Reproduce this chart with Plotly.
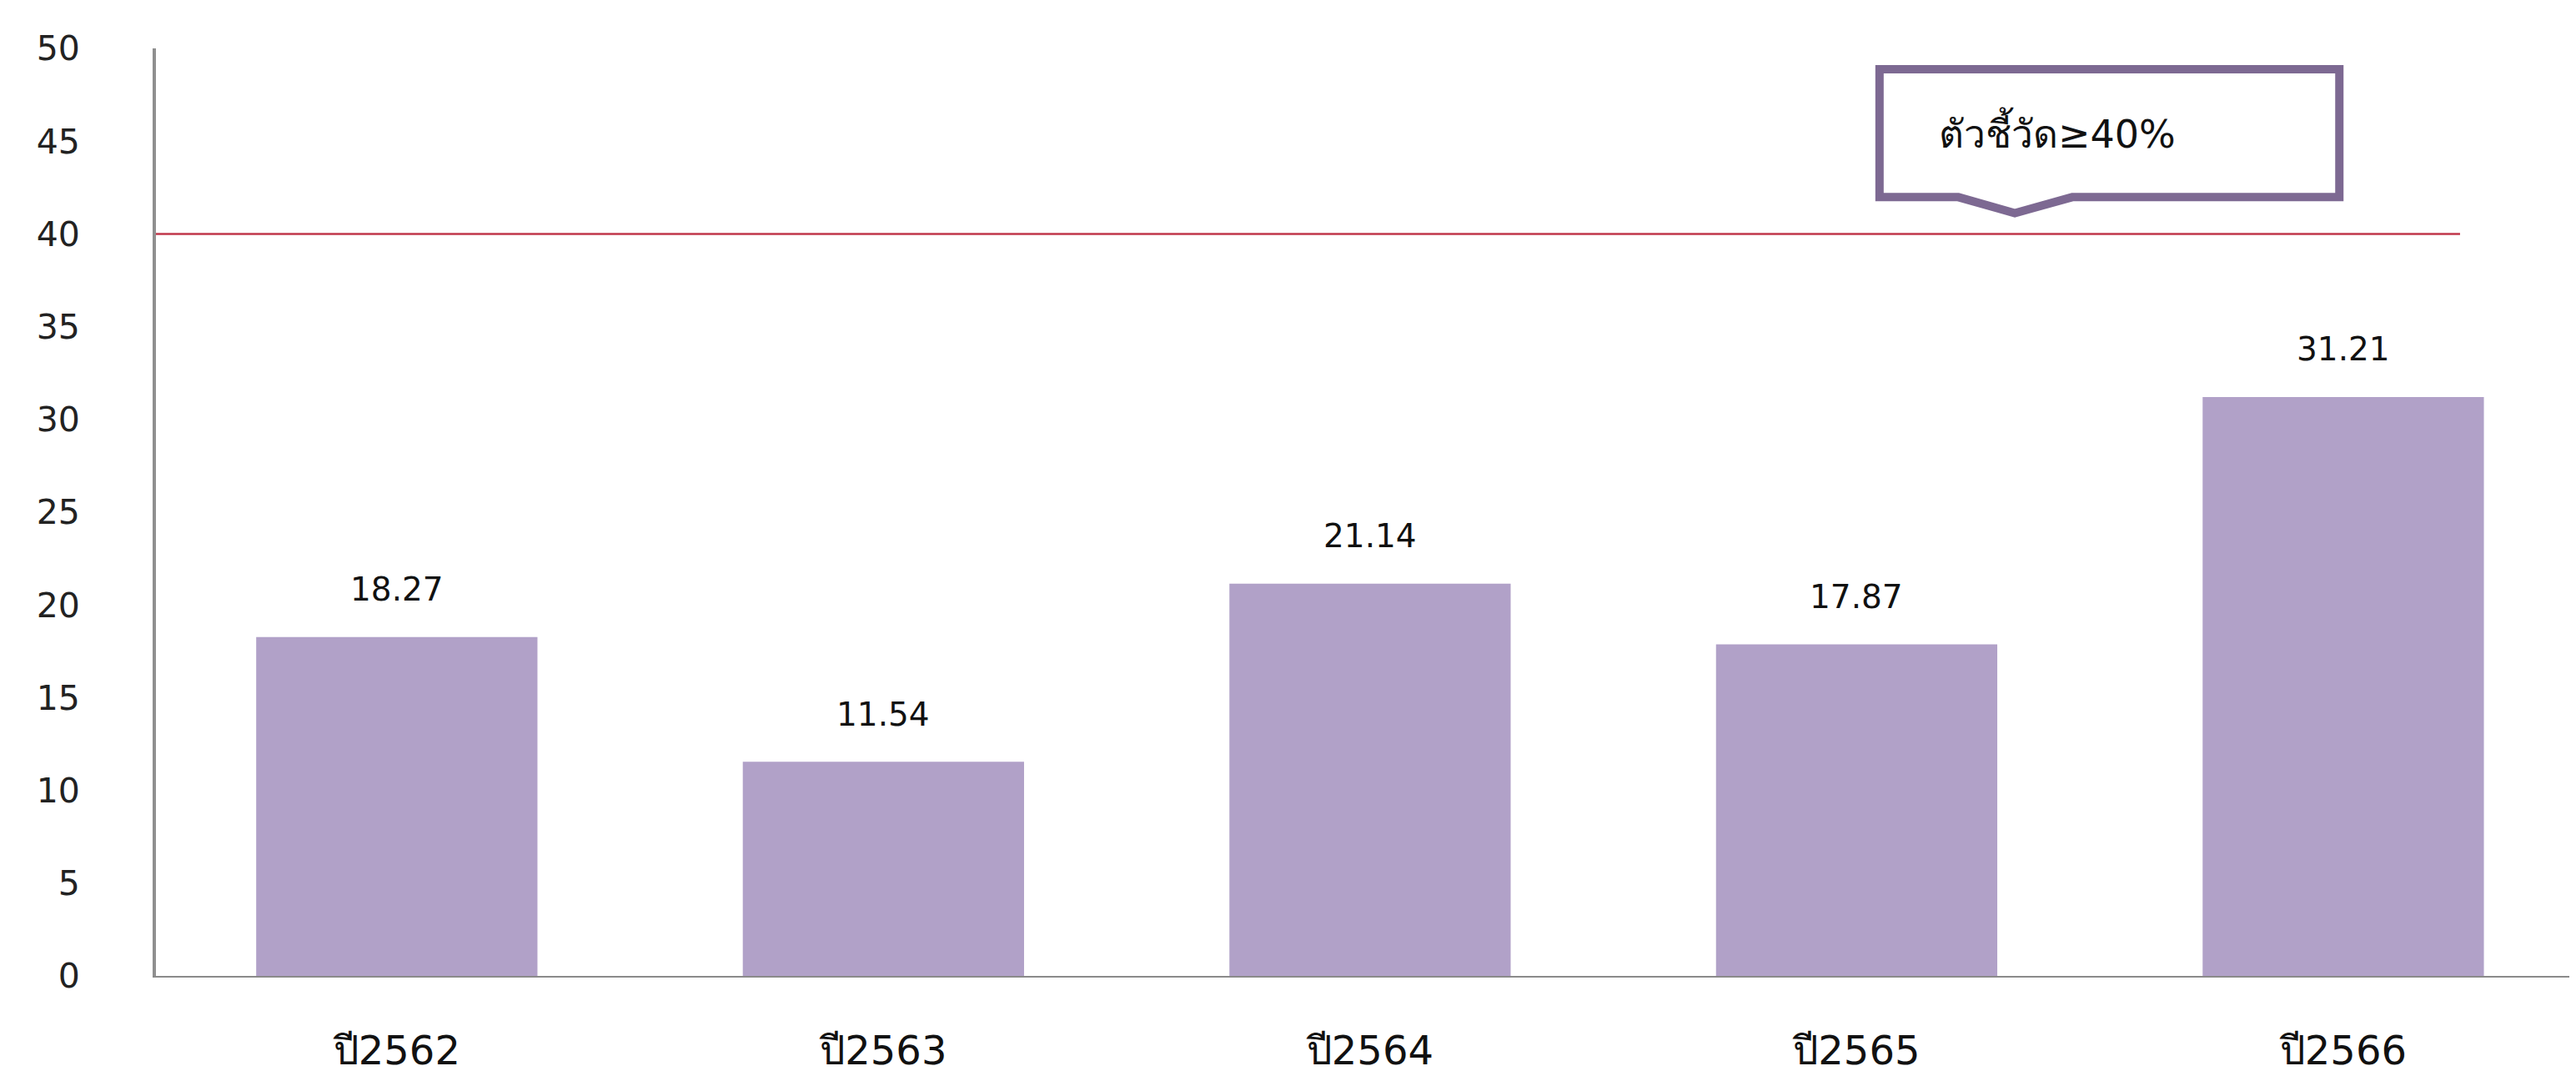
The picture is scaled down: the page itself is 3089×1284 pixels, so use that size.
import plotly.graph_objects as go

categories = ["ปี2562", "ปี2563", "ปี2564", "ปี2565", "ปี2566"]
values = [18.27, 11.54, 21.14, 17.87, 31.21]
threshold = 40
callout_text = "ตัวชี้วัด≥40%"
y_ticks = [0, 5, 10, 15, 20, 25, 30, 35, 40, 45, 50]

FONT = "Tahoma, Verdana, DejaVu Sans, Noto Sans, sans-serif"
x_idx = list(range(len(categories)))

fig = go.Figure()
fig.add_trace(go.Bar(
    x=x_idx, y=values,
    marker=dict(color="#b1a1c8", line=dict(width=0)),
    hoverinfo="skip",
))

# data labels
for i, v in zip(x_idx, values):
    fig.add_annotation(x=i, y=v, text=f"{v:.2f}", showarrow=False,
                       yanchor="middle", yshift=57,
                       font=dict(family=FONT, size=39, color="#111"))

# threshold line
fig.add_shape(type="line", xref="x", yref="y", x0=-0.495, x1=4.240,
              y0=threshold, y1=threshold,
              line=dict(color="#c0364a", width=2.5))

# callout box with pointer
L, R, T, B = 3.047, 3.992, 48.88, 41.98
pl, pc, pr, tip = 3.209, 3.325, 3.443, 41.12
path = (f"M {L},{T} L {R},{T} L {R},{B} L {pr},{B} L {pc},{tip} "
        f"L {pl},{B} L {L},{B} Z")
fig.add_shape(type="path", xref="x", yref="y", path=path,
              fillcolor="white", line=dict(color="#7d6992", width=10))
fig.add_annotation(x=3.165, y=45.5, xref="x", yref="y", text=callout_text,
                   showarrow=False, xanchor="left", yanchor="middle",
                   font=dict(family=FONT, size=46, color="#111"))

fig.update_layout(
    width=3089, height=1284,
    margin=dict(l=179, r=0, t=50, b=122),
    paper_bgcolor="white", plot_bgcolor="white",
    bargap=0.422, showlegend=False,
)
fig.update_xaxes(
    range=[-0.495, 4.492], tickmode="array", tickvals=x_idx, ticktext=categories,
    showgrid=False, zeroline=False, showline=True, linecolor="#8a8a8a",
    linewidth=2, ticks="", ticklabelstandoff=46, automargin=False,
    tickfont=dict(family=FONT, size=48, color="#111"),
)
fig.update_yaxes(
    range=[0, 50], tickmode="array", tickvals=y_ticks,
    showgrid=False, zeroline=False, showline=True, linecolor="#8f8f8f",
    linewidth=4, ticks="", ticklabelstandoff=79, automargin=False,
    tickfont=dict(family=FONT, size=41, color="#222"),
)

fig.write_html("out.html")
